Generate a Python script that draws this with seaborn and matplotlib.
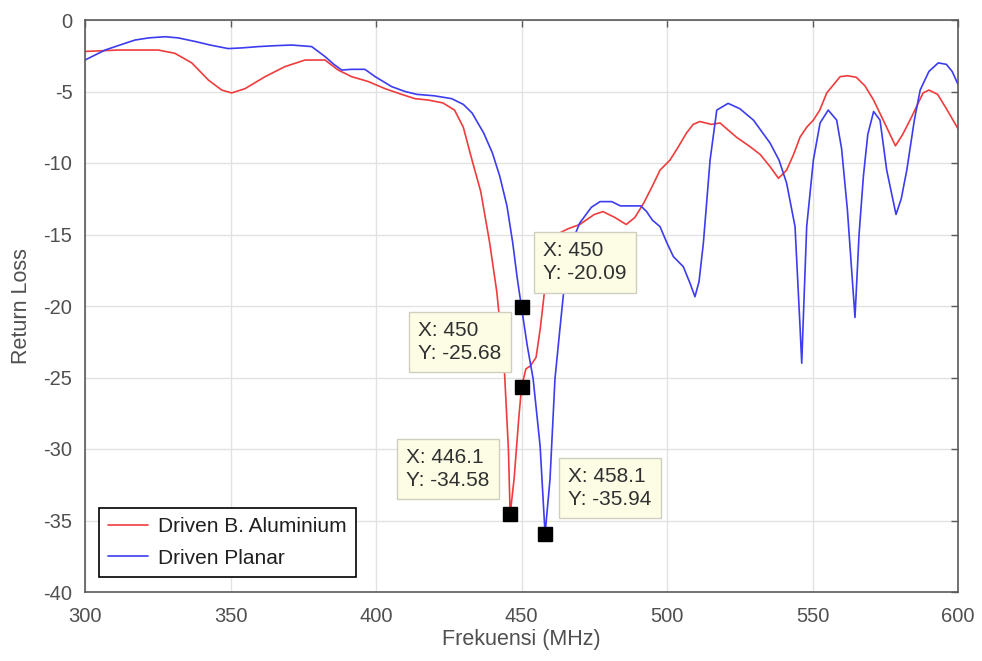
import numpy as np
import pandas as pd
import matplotlib
matplotlib.use("Agg")
import matplotlib.pyplot as plt
import seaborn as sns
from matplotlib.lines import Line2D

# ---- data ----
alu_x = [300, 311.5, 320, 325.2, 330.9, 336.7, 342.4, 347, 350.4, 355, 361.9, 368.7, 375.6, 382.5, 387,
         391.6, 397.3, 403.1, 408.8, 413.4, 418, 423, 427, 430, 433, 436, 439, 441.5, 444, 445.5, 446.1,
         447.5, 449, 450, 451.5, 453, 455, 456.5, 458, 459.5, 462, 466, 470, 475, 478, 482,
         486, 489, 492, 495, 497.6, 501, 503.5, 506.7, 509, 511.3, 515.3, 518.2, 523.9, 528.5, 532, 535.4, 538.3,
         541.1, 543.5, 545.7, 548, 550.3, 552.5, 554.9, 559.5, 562, 565, 568, 571, 575, 578.5, 581, 584, 588,
         590, 593, 596, 600]
alu_y = [-2.2, -2.1, -2.1, -2.1, -2.33, -3.0, -4.2, -4.9, -5.1, -4.8, -3.96, -3.26, -2.8, -2.8, -3.5,
         -3.96, -4.3, -4.8, -5.2, -5.5, -5.6, -5.8, -6.3, -7.5, -9.8, -12.0, -15.5, -19.0, -24.0, -30.0, -34.58,
         -32.0, -28.0, -25.68, -24.4, -24.2, -23.6, -21.5, -18.8, -16.0, -15.0, -14.6, -14.3, -13.6, -13.4, -13.8,
         -14.3, -13.8, -12.8, -11.6, -10.5, -9.8, -9.0, -7.9, -7.3, -7.1, -7.3, -7.2, -8.2, -8.85, -9.4, -10.25, -11.07,
         -10.5, -9.4, -8.2, -7.5, -7.0, -6.3, -5.1, -3.96, -3.9, -4.0, -4.6, -5.6, -7.3, -8.8, -8.0, -6.8, -5.1,
         -4.9, -5.2, -6.2, -7.6]

pla_x = [300, 306.9, 312, 317.2, 322, 327.5, 332, 337.8, 343, 349.2, 354, 359.6, 365, 371, 377.9, 382.5,
         385.5, 388.2, 391.6, 396.2, 399.7, 405.4, 410, 414, 420, 426, 430, 433, 437, 440, 442.5, 445, 447,
         448.5, 450, 452, 454, 456.4, 458.1, 459.8, 461.5, 463.2, 464.5, 466, 468, 470, 474, 477, 481, 484,
         488, 491, 493, 495, 497.6, 500, 502.2, 505.6, 507.9, 509.6, 511, 512.5, 514.8, 517.1, 521, 525,
         529.7, 535.4, 538.5, 541.1, 544, 545.7, 546.3, 547, 548, 550.3, 552.6, 555.4, 558.3, 560, 562,
         564.6, 566, 567.5, 569, 571, 573.2, 575.5, 578.7, 580.5, 582.4, 585, 587, 590, 593.2, 596, 598, 600]
pla_y = [-2.8, -2.1, -1.75, -1.4, -1.25, -1.17, -1.25, -1.5, -1.75, -2.0, -1.95, -1.86, -1.8, -1.75, -1.86, -2.56,
         -3.1, -3.5, -3.45, -3.45, -3.96, -4.66, -5.0, -5.2, -5.3, -5.5, -5.9, -6.5, -7.9, -9.3, -10.9, -13.0, -15.6,
         -18.0, -20.09, -22.8, -25.1, -29.8, -35.94, -32.1, -25.1, -21.6, -19.0, -17.0, -15.2, -14.2, -13.1, -12.7, -12.7, -13.0,
         -13.0, -13.0, -13.4, -14.0, -14.45, -15.6, -16.55, -17.25, -18.4, -19.35, -18.3, -15.6, -9.8, -6.3, -5.83, -6.2,
         -7.0, -8.6, -9.8, -11.4, -14.45, -21.4, -24.0, -20.0, -14.45, -9.8, -7.2, -6.3, -7.0, -9.0, -13.3,
         -20.8, -15.0, -10.9, -8.0, -6.4, -7.0, -10.5, -13.6, -12.5, -10.5, -7.0, -4.9, -3.6, -3.0, -3.1, -3.6, -4.5]

series_names = ["Driven B. Aluminium", "Driven Planar"]
tip_x = [450, 450, 446.1, 458.1]
tip_y = [-20.09, -25.68, -34.58, -35.94]
tip_labels = ["X: 450\nY: -20.09", "X: 450\nY: -25.68", "X: 446.1\nY: -34.58", "X: 458.1\nY: -35.94"]
x_ticks = [300, 350, 400, 450, 500, 550, 600]
y_ticks = [-40, -35, -30, -25, -20, -15, -10, -5, 0]

# ---- style ----
sns.set_style("whitegrid")
plt.rcParams["font.family"] = ["Liberation Sans", "DejaVu Sans"]
plt.rcParams["axes.unicode_minus"] = False

df = pd.DataFrame({
    "f": alu_x + pla_x,
    "rl": alu_y + pla_y,
    "s": [series_names[0]] * len(alu_x) + [series_names[1]] * len(pla_x),
})

fig = plt.figure(figsize=(9.82, 6.61), dpi=100)
ax = fig.add_axes([85 / 982, 1 - 592 / 661, 873 / 982, 572 / 661])

palette = {series_names[0]: "#f03c3c", series_names[1]: "#3c3cf0"}
sns.lineplot(data=df, x="f", y="rl", hue="s", palette=palette, estimator=None,
             sort=False, linewidth=1.2, ax=ax, legend=False)

ax.set_xlim(300, 600)
ax.set_ylim(-40, 0)
ax.set_xticks(x_ticks)
ax.set_yticks(y_ticks)
ax.grid(True, color="#e2e2e2", linewidth=1.0)
for sp in ax.spines.values():
    sp.set_color("#5a5a5a")
    sp.set_linewidth(1.2)
ax.tick_params(direction="in", length=5, width=1.0, color="#5a5a5a",
               top=True, right=True, labelsize=14.5, labelcolor="#505050")
ax.tick_params(axis="x", pad=11)
ax.tick_params(axis="y", pad=9)
ax.set_xlabel("Frekuensi (MHz)", fontsize=15.5, color="#505050", labelpad=2)
ax.set_ylabel("Return Loss", fontsize=15.5, color="#505050", labelpad=8)

# legend
handles = [Line2D([], [], color=palette[n], linewidth=1.2) for n in series_names]
leg = ax.legend(handles, series_names, loc="lower left", bbox_to_anchor=(0.016, 0.026),
                borderaxespad=0, fancybox=False, frameon=True, fontsize=15,
                handlelength=1.9, labelspacing=0.6, borderpad=0.45, handletextpad=0.5)
leg.get_frame().set_edgecolor("black")
leg.get_frame().set_linewidth(1.2)
leg.get_frame().set_alpha(1)
for t in leg.get_texts():
    t.set_color("#202020")

# data tips
offsets = [(63.5, 45), (-62, 45), (-62, 45.5), (64.5, 46)]
ax.plot(tip_x, tip_y, linestyle="none", marker="s", markersize=10, color="black", zorder=5)
for x, y, lab, off in zip(tip_x, tip_y, tip_labels, offsets):
    ax.annotate(lab, xy=(x, y), xytext=off, textcoords="offset pixels",
                ha="center", va="center", multialignment="left", fontsize=15,
                color="#303030", linespacing=1.25,
                bbox=dict(boxstyle="square,pad=0.45", facecolor="#fdfde6", edgecolor="#cfcfc0", linewidth=1.0),
                zorder=6)

fig.savefig("out.png", dpi=100)
